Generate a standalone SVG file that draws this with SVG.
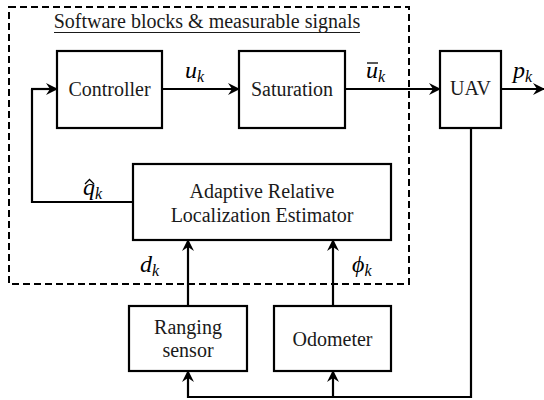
<svg xmlns="http://www.w3.org/2000/svg" width="544" height="400" viewBox="0 0 544 400">
  <style>
    .box { fill: #fff; stroke: #000; stroke-width: 2.2; }
    .wire { fill: none; stroke: #000; stroke-width: 2.2; }
    .arrow { fill: none; stroke: #000; stroke-width: 2.2; marker-end: url(#head); }
    .lbl { font-family: "Liberation Serif", "Times New Roman", serif; font-size: 20px; fill: #1a1a1a; text-anchor: middle; }
    .math { font-family: "Liberation Serif", "Times New Roman", serif; font-style: italic; font-size: 24px; fill: #000; }
    .sub { font-size: 16px; }
  </style>
  <defs>
    <marker id="head" viewBox="0 0 12 12" refX="11" refY="6" markerWidth="12" markerHeight="12" markerUnits="userSpaceOnUse" orient="auto">
      <path d="M0,0 L12,6 L0,12 L4,6 Z" fill="#000"/>
    </marker>
  </defs>

  <!-- software boundary -->
  <g id="software-boundary">
    <rect x="9" y="7" width="400" height="277" fill="none" stroke="#000" stroke-width="2" stroke-dasharray="7,4"/>
    <text class="lbl" x="207" y="28">Software blocks &amp; measurable signals</text>
    <line x1="54" y1="32.5" x2="360" y2="32.5" stroke="#1a1a1a" stroke-width="1.2"/>
  </g>

  <!-- connectors -->
  <g id="connectors">
    <line class="arrow" x1="162" y1="89" x2="239" y2="89"/>
    <line class="arrow" x1="345" y1="89" x2="440" y2="89"/>
    <line class="arrow" x1="501" y1="89" x2="544" y2="89"/>
    <polyline class="wire" points="133,202 32,202 32,89"/>
    <line class="arrow" x1="31" y1="89" x2="57" y2="89"/>
    <line class="arrow" x1="188" y1="306" x2="188" y2="240"/>
    <line class="arrow" x1="333" y1="306" x2="333" y2="240"/>
    <polyline class="wire" points="471,128 471,397 188,397"/>
    <line class="arrow" x1="188" y1="398" x2="188" y2="371"/>
    <line class="arrow" x1="333" y1="398" x2="333" y2="371"/>
  </g>

  <!-- signal labels -->
  <g id="signals">
    <text class="math" x="185" y="78">u<tspan class="sub" dy="4">k</tspan></text>
    <text class="math" x="366" y="78">u<tspan class="sub" dy="4">k</tspan></text>
    <line x1="367" y1="63" x2="378" y2="63" stroke="#000" stroke-width="1.3"/>
    <text class="math" x="513" y="78">p<tspan class="sub" dy="4">k</tspan></text>
    <text class="math" x="83" y="195">q<tspan class="sub" dy="4">k</tspan></text>
    <path d="M85,184 L89.5,179.5 L94,184" fill="none" stroke="#000" stroke-width="1.3"/>
    <text class="math" x="140" y="272">d<tspan class="sub" dy="4">k</tspan></text>
    <text class="math" x="352" y="272">ϕ<tspan class="sub" dy="4">k</tspan></text>
  </g>

  <g id="controller">
    <rect class="box" x="57" y="51" width="105" height="77"/>
    <text class="lbl" x="109.5" y="96">Controller</text>
  </g>

  <g id="saturation">
    <rect class="box" x="239" y="51" width="106" height="77"/>
    <text class="lbl" x="292" y="96">Saturation</text>
  </g>

  <g id="uav">
    <rect class="box" x="440" y="51" width="61" height="77"/>
    <text class="lbl" x="470.5" y="95" font-size="15px">UAV</text>
  </g>

  <g id="estimator">
    <rect class="box" x="133" y="164" width="258" height="76"/>
    <text class="lbl" x="262" y="198">Adaptive Relative</text>
    <text class="lbl" x="262" y="222">Localization Estimator</text>
  </g>

  <g id="ranging-sensor">
    <rect class="box" x="129" y="306" width="118" height="65"/>
    <text class="lbl" x="188" y="334">Ranging</text>
    <text class="lbl" x="188" y="357">sensor</text>
  </g>

  <g id="odometer">
    <rect class="box" x="274" y="306" width="117" height="65"/>
    <text class="lbl" x="332.5" y="346">Odometer</text>
  </g>
</svg>
